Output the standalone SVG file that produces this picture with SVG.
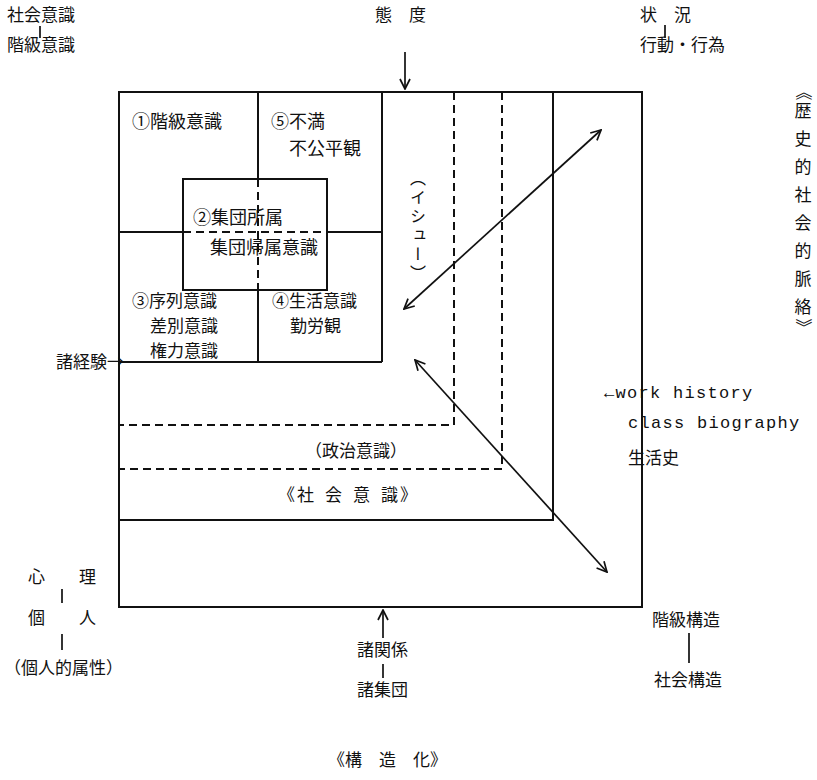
<svg xmlns="http://www.w3.org/2000/svg" width="817" height="780" viewBox="0 0 817 780">
<style>
.t{font-family:"Noto Sans CJK JP","Liberation Sans",sans-serif;font-size:17px;fill:#111}
.b{font-size:18px}
.v{writing-mode:vertical-rl}
.e{font-family:"Liberation Mono",monospace;font-size:17px;fill:#111;letter-spacing:1.3px}
.s{stroke:#111;stroke-width:2;fill:none}
.d{stroke:#111;stroke-width:2;fill:none;stroke-dasharray:8 5}
.a{stroke:#111;stroke-width:1.7;fill:none}
</style>
<defs>
<marker id="ah" viewBox="0 0 12 12" refX="11" refY="6" markerWidth="12" markerHeight="12" markerUnits="userSpaceOnUse" orient="auto-start-reverse">
<path d="M1,1 L11,6 L1,11" fill="none" stroke="#111" stroke-width="1.7"/>
</marker>
</defs>
<g id="frame">
<rect class="s" x="119" y="92" width="523" height="515" stroke-width="2.2"/>
<path class="s" d="M553,92 V520 H119"/>
<path class="d" d="M502,92 V469 H119"/>
<path class="d" d="M454,92 V425 H119"/>
</g>
<g id="grid">
<path class="s" d="M258,92 V179 M258,290 V362 M382,92 V362 M119,232 H183 M327,232 H382 M119,362 H382"/>
<rect class="s" x="183" y="179" width="144" height="111"/>
<path class="d" d="M258,179 V290 M183,232 H327" stroke-dasharray="7 4"/>
</g>
<g id="n1"><text class="t b" x="132" y="128">①階級意識</text></g>
<g id="n5"><text class="t b" x="271" y="128">⑤不満</text><text class="t b" x="289" y="155">不公平観</text></g>
<g id="n2"><text class="t b" x="193" y="224">②集団所属</text><text class="t b" x="210" y="254">集団帰属意識</text></g>
<g id="n3"><text class="t" x="132" y="307">③序列意識</text><text class="t" x="150" y="332">差別意識</text><text class="t" x="150" y="357">権力意識</text></g>
<g id="n4"><text class="t" x="272" y="307">④生活意識</text><text class="t" x="290" y="332">勤労観</text></g>
<g id="issue"><text class="t v" x="418" y="170" style="font-size:16px" letter-spacing="3">（イシュー）</text></g>
<g id="seiji"><text class="t" x="305" y="457">（政治意識）</text></g>
<g id="shakai">
<text class="t" x="278" y="501">《</text>
<text class="t" x="297" y="501">社</text>
<text class="t" x="325" y="501">会</text>
<text class="t" x="353" y="501">意</text>
<text class="t" x="381" y="501">識</text>
<text class="t" x="400" y="501">》</text>
</g>
<g id="connectors">
<line class="a" x1="405" y1="52" x2="405" y2="89" marker-end="url(#ah)"/>
<line class="a" x1="404" y1="309" x2="601" y2="130" marker-start="url(#ah)" marker-end="url(#ah)"/>
<line class="a" x1="415" y1="360" x2="607" y2="572" marker-start="url(#ah)" marker-end="url(#ah)"/>
<line class="a" x1="383" y1="638" x2="383" y2="610" marker-end="url(#ah)"/>
<line class="a" x1="383" y1="664" x2="383" y2="678"/>
<line class="a" x1="40" y1="26" x2="40" y2="38"/>
<line class="a" x1="665" y1="25" x2="665" y2="38"/>
<line class="a" x1="62" y1="589" x2="62" y2="603"/>
<line class="a" x1="62" y1="634" x2="62" y2="650"/>
<line class="a" x1="689" y1="633" x2="689" y2="663"/>
</g>
<g id="tl"><text class="t" x="7" y="21">社会意識</text><text class="t" x="7" y="51">階級意識</text></g>
<g id="taido"><text class="t" x="375" y="21">態　度</text></g>
<g id="tr"><text class="t" x="640" y="21">状　況</text><text class="t" x="640" y="51">行動・行為</text></g>
<g id="context">
<text class="t" transform="translate(803,92) rotate(90)" x="0" y="6" text-anchor="middle">《</text>
<text class="t" x="803" y="117" text-anchor="middle">歴</text>
<text class="t" x="803" y="145" text-anchor="middle">史</text>
<text class="t" x="803" y="173" text-anchor="middle">的</text>
<text class="t" x="803" y="201" text-anchor="middle">社</text>
<text class="t" x="803" y="229" text-anchor="middle">会</text>
<text class="t" x="803" y="257" text-anchor="middle">的</text>
<text class="t" x="803" y="285" text-anchor="middle">脈</text>
<text class="t" x="803" y="313" text-anchor="middle">絡</text>
<text class="t" transform="translate(803,327) rotate(90)" x="0" y="6" text-anchor="middle">》</text>
</g>
<g id="keiken"><text class="t" x="56" y="368">諸経験→</text></g>
<g id="work">
<text class="e" x="604" y="398">←work   history</text>
<text class="e" x="628" y="428">class  biography</text>
<text class="t" x="628" y="464">生活史</text>
</g>
<g id="bl">
<text class="t" x="28" y="583">心　　理</text>
<text class="t" x="28" y="624">個　　人</text>
<text class="t" x="4" y="674">（個人的属性）</text>
</g>
<g id="bc"><text class="t" x="357" y="656">諸関係</text><text class="t" x="357" y="696">諸集団</text></g>
<g id="br"><text class="t" x="652" y="626">階級構造</text><text class="t" x="654" y="686">社会構造</text></g>
<g id="caption"><text class="t" x="328" y="766">《構　造　化》</text></g>
</svg>
